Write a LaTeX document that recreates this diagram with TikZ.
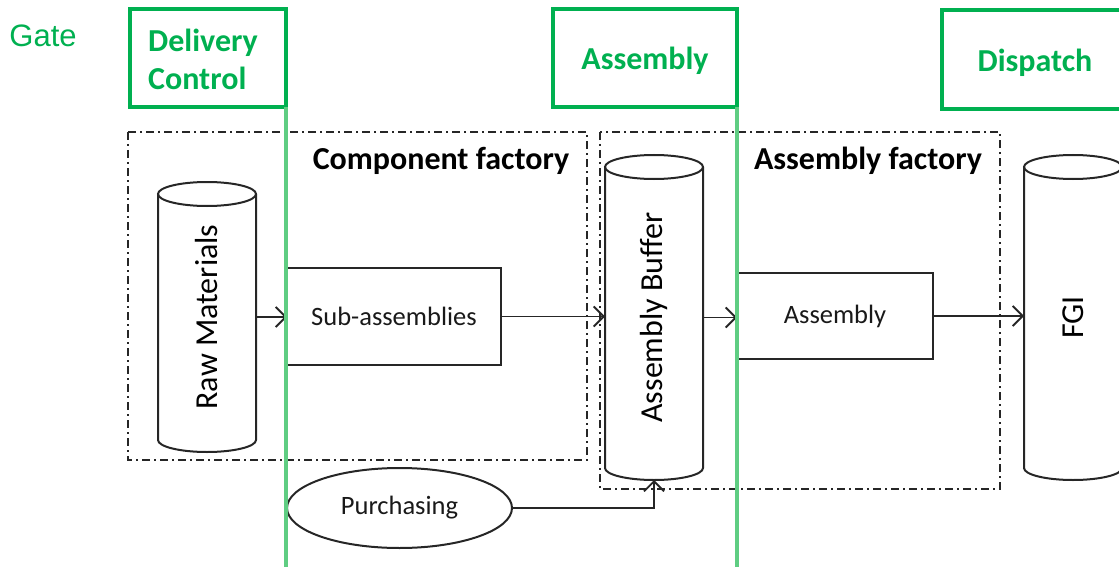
\documentclass[tikz,border=0pt]{standalone}
\usepackage{fontspec}
\usepackage{graphicx}
\setmainfont{Carlito}
\newfontfamily\arialfont{Liberation Sans}
\usetikzlibrary{arrows.meta,calc,shapes.geometric}
\definecolor{gategreen}{RGB}{0,176,80}
\definecolor{linegreen}{RGB}{95,205,130}
\begin{document}
\begin{tikzpicture}[x=1pt,y=1pt,
  gatebox/.style={draw=gategreen,line width=3.4pt,inner sep=0pt,outer sep=0pt,text=gategreen,font=\fontsize{32}{38}\selectfont\bfseries},
  gateline/.style={draw=linegreen,line width=3.4pt},
  factory/.style={draw=black!85,line width=1.6pt,dash pattern=on 8pt off 4pt on 2pt off 4pt},
  flowbox/.style={draw=black!85,line width=2pt,inner sep=0pt,outer sep=0pt,font=\fontsize{26.5}{30}\selectfont,text=black!90},
  cylnode/.style={inner sep=0pt,outer sep=0pt,font=\fontsize{32}{36}\selectfont},
  cylline/.style={draw=black!85,line width=2pt},
  flow/.style={draw=black!85,line width=1.9pt,-{Straight Barb[length=10pt,width=20pt,line width=1.8pt]}},
  title/.style={font=\fontsize{32}{36}\selectfont\bfseries,text=black}
]
\useasboundingbox (0,0) rectangle (1119,-567);
\clip (0,0) rectangle (1119,-567);

% factory boundaries
\draw[factory] (128,-132) rectangle (587,-460);
\draw[factory] (600,-132) rectangle (1000,-489);
\node[title] (cf) at (441,-161) {Component factory};
\node[title] (af) at (868,-161) {Assembly factory};

% gate labels
\node[text=gategreen,font=\arialfont\fontsize{31}{36}\selectfont] (gate) at (43,-36) {Gate};
\node[gatebox,minimum width=156pt,minimum height=98pt] (dc) at (208,-58) {};
\node[text=gategreen,font=\fontsize{32}{38}\selectfont\bfseries,align=left,anchor=west,inner sep=0pt] (dct) at (148,-59) {Delivery\\Control};
\node[gatebox,minimum width=184pt,minimum height=98pt] (ga) at (645,-58) {};
\node[text=gategreen,font=\fontsize{32}{38}\selectfont\bfseries] (gat) at (645,-61) {Assembly};
\node[gatebox,minimum width=186pt,minimum height=99pt] (gd) at (1035,-59.5) {};
\node[text=gategreen,font=\fontsize{32}{38}\selectfont\bfseries] (gdt) at (1035,-63) {Dispatch};

% cylinders
\node[cylnode,minimum width=98pt,minimum height=270pt] (raw) at (207,-317) {\rotatebox{90}{Raw Materials}};
\node[cylnode,minimum width=98pt,minimum height=325pt] (buf) at (654,-317.5) {\rotatebox{90}{Assembly Buffer}};
\node[cylnode,minimum width=98pt,minimum height=325pt] (fgi) at (1073,-317.5) {\rotatebox{90}{FGI}};
\foreach \c in {raw,buf,fgi}{
  \draw[cylline] ([yshift=-12pt]\c.north) ellipse[x radius=49pt,y radius=12pt];
  \draw[cylline] ([yshift=-12pt]\c.north west) -- ([yshift=12pt]\c.south west)
     arc[start angle=180,end angle=360,x radius=49pt,y radius=12pt]
     -- ([yshift=-12pt]\c.north east);
}

% process boxes
\node[flowbox,minimum width=214pt,minimum height=97pt] (sub) at (394,-316.5) {Sub-assemblies};
\node[flowbox,minimum width=196pt,minimum height=86pt] (asm) at (835,-316) {Assembly};
\node[flowbox,ellipse,minimum width=225pt,minimum height=80pt] (pur) at (399.5,-508) {Purchasing};

% connectors
\draw[flow] (raw.east) -- (raw.east -| sub.west);
\draw[flow] (sub.east) -- (sub.east -| buf.west);
\draw[flow] (buf.east) -- (buf.east -| asm.west);
\draw[flow] (asm.east) -- (asm.east -| fgi.west);
\draw[flow] (pur.east) -| (buf.south);

% gate lines
\coordinate (l1) at (286,-567);
\coordinate (l2) at (737,-567);
\draw[gateline] (dc.south east) -- (dc.south east |- l1);
\draw[gateline] (ga.south east) -- (ga.south east |- l2);
\end{tikzpicture}
\end{document}
